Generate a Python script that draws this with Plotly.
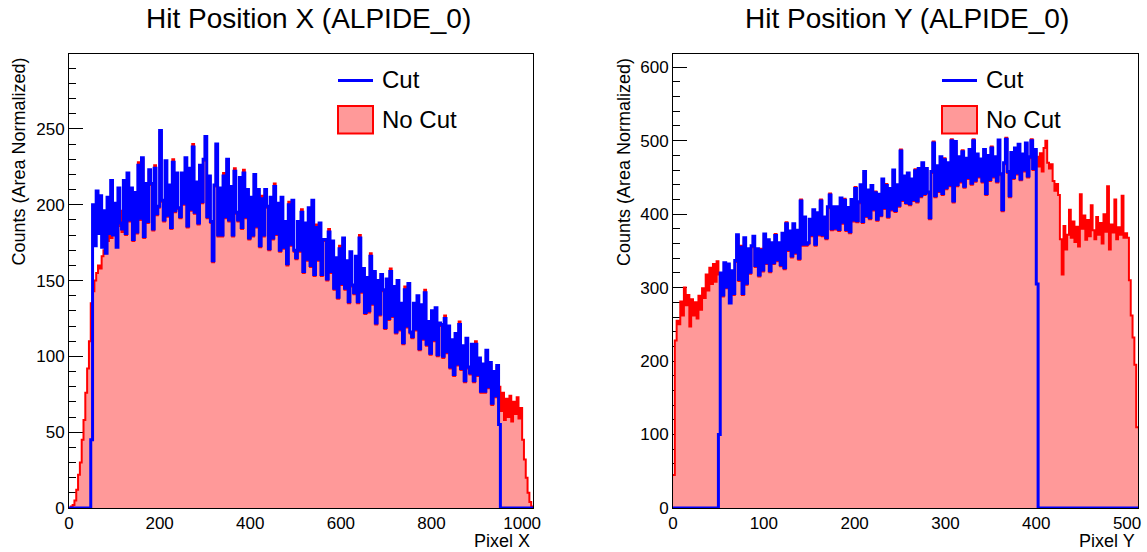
import numpy as np
import plotly.graph_objects as go

# ---------------- data ----------------
# Hit position X: 256 bins over pixel range 0..1024
X_RANGE = (0, 1024)
X_CUT = ([0] * 12 + [45] +
    [200,173,209,181,206,172,196,168,205,181,216,180,201,172,211,188,
     184,216,181,221,190,211,177,208,182,226,191,231,179,214,189,223,
     214,184,224,194,199,249,203,190,229,193,213,185,228,196,221,198,
     192,221,201,231,186,224,197,238,195,215,188,226,202,230,245,192,
     219,189,163,213,240,180,211,180,219,192,230,190,212,180,222,195,
     190,218,185,221,192,210,178,205,180,220,186,210,173,204,180,210,
     199,171,205,178,212,181,201,170,205,172,189,161,200,174,203,170,
     165,189,170,195,156,188,164,198,160,203,154,185,164,188,154,177,
     177,151,182,156,176,145,165,139,171,148,178,145,163,136,169,147,
     142,166,136,178,143,158,129,152,130,166,135,156,122,150,128,154,
     144,119,151,125,156,127,146,116,150,118,135,109,144,120,148,116,
     113,135,118,140,105,134,112,142,108,123,102,130,111,132,101,122,
     121,100,125,103,120,93,111,88,115,95,121,92,107,84,112,93,
     89,108,84,108,88,99,77,95,77,104,80,96,69,90,74,94] +
    [55] + [0] * 18)

X_NOCUT = (
    [0,1,2,5,12,22,30,45,58,76,92,110,135] +
    [143,150,155,160,158,166,170,168,176,185,178,187,180,195,186,196,182,205] +
    [180,220,189,210,176,207,181,228,190,230,178,213,188,222,
     213,183,226,193,198,248,202,189,228,192,212,184,230,195,220,197,
     191,220,200,230,185,223,196,240,194,214,187,225,201,229,244,191,
     218,188,162,212,239,179,210,179,221,191,229,189,211,179,224,194,
     189,217,184,223,191,209,177,204,179,219,185,209,172,206,179,209,
     198,170,204,177,214,180,200,169,204,171,188,160,202,173,202,169,
     164,188,169,197,155,187,163,197,159,202,153,187,163,187,153,176,
     176,150,184,155,175,144,164,138,173,147,177,144,162,135,168,146,
     141,165,135,180,142,157,128,151,129,168,134,155,121,149,127,153,
     143,118,150,124,158,126,145,115,149,117,134,108,146,119,147,115,
     112,134,117,139,104,133,111,144,107,122,101,129,110,131,100,121,
     120,99,127,102,119,92,110,87,114,94,123,91,106,83,111,92,
     88,107,83,110,87,98,76,94,76,103,79,95,68,89,73,93] +
    [80,64,76,58,72,60,74,57,70,62,73,59,66,45,32,20,10,4,1])

# Hit position Y: 256 bins over pixel range 0..512
Y_RANGE = (0, 512)
Y_CUT = ([0] * 25 + [100] +
    [320,290,334,301,332,279,323,292,337,372,311,355,292,368,306,353,
     321,357,370,330,353,317,351,324,373,334,365,323,361,334,371,338,
     361,331,374,327,387,352,377,343,387,348,378,340,418,359,396,359,
     361,393,372,406,359,402,373,418,372,396,368,410,426,380,410,381,
     410,379,422,389,419,379,409,376,420,392,435,391,417,440,390,458,
     398,433,395,439,407,429,393,427,399,448,409,439,397,435,407,460,
     405,440,412,486,420,452,416,456,414,448,420,459,418,462,425,470,
     428,462,430,395,458,497,425,466,432,478,428,474,436,470,440,500,
     418,499,440,478,445,485,438,476,450,488,442,500,446,482,452,475,
     445,488,428,480,447,490,452,478,445,501,455,406,470,502,458,425,
     484,450,490,456,495,448,482,460,497,452,478,500,462,488] +
    [305] + [0] * 55)

Y_NOCUT = (
    [45,228,255,250,281,262,300,276,290,247,284,262,280,258,289,270,
     299,286,318,296,327,305,332,308,336,318] +
    [318,288,332,299,330,282,321,290,335,370,309,357,290,366,304,351,
     319,355,368,328,351,315,353,322,371,332,363,321,359,332,373,336,
     359,329,372,325,389,350,375,341,385,346,376,338,420,357,394,357,
     359,391,370,404,357,400,371,420,370,394,366,408,428,378,408,379,
     408,377,420,387,421,377,407,374,418,390,437,389,415,438,388,456,
     396,431,393,437,405,431,391,425,397,446,407,441,395,433,405,458,
     403,438,410,488,418,450,414,454,412,446,418,461,416,460,423,468,
     426,460,428,393,456,499,423,464,430,476,426,476,434,468,438,502,
     416,497,438,476,443,487,436,474,448,486,440,502,444,480,450,473,
     443,486,426,478,445,492,450,476,443,499,453,404,468,504,456,423,
     482,448,488,454,493,446,480,458,495,450,476,502,460,486] +
    [478,465,483,458,490,500,470,462,468,445,432,441,426,366,318,384,
     352,372,406,368,390,362,383,356,427,380,398,365,392,370,412,378,
     366,396,372,388,360,400,376,438,352,386,375,420,366,382,372,425,
     368,374,368,310,262,232,195,110])

TITLES = ["Hit Position X (ALPIDE_0)", "Hit Position Y (ALPIDE_0)"]
X_TITLES = ["Pixel X", "Pixel Y"]
Y_TITLE = "Counts (Area Normalized)"
LEGEND_LABELS = ["Cut", "No Cut"]
X_TICKS = [list(range(0, 1001, 200)), list(range(0, 501, 100))]

# ---------------- styling / layout ----------------
W, H = 1147, 552
FONT = "Liberation Sans, Arial, sans-serif"
BLUE = "#0000ff"
RED = "#ff0000"
PINK = "#ff9999"

def px_x(p):
    return p / W

def px_y(p):
    return 1 - p / H

panels = [
    dict(xd=(69, 533), rng=X_RANGE, cut=X_CUT, nocut=X_NOCUT, ymax=299.4,
         ydt=50, yminor=10, title_cx=308.5, ytitle_cx=18.5),
    dict(xd=(673, 1138), rng=Y_RANGE, cut=Y_CUT, nocut=Y_NOCUT, ymax=618,
         ydt=100, yminor=20, title_cx=906.5, ytitle_cx=624),
]
TOP, BOT = 54, 508

fig = go.Figure()
annotations = []
shapes = []

for k, p in enumerate(panels):
    ax = "" if k == 0 else str(k + 1)
    nb = len(p["nocut"])
    edges = np.linspace(p["rng"][0], p["rng"][1], nb + 1)
    y_nc = list(p["nocut"]) + [p["nocut"][-1]]
    y_c = list(p["cut"]) + [p["cut"][-1]]
    fig.add_trace(go.Scatter(
        x=edges, y=y_nc, mode="lines", line=dict(color=RED, width=2, shape="hv"),
        fill="tozeroy", fillcolor=PINK, xaxis="x" + ax, yaxis="y" + ax,
        name=LEGEND_LABELS[1], showlegend=False, hoverinfo="skip"))
    fig.add_trace(go.Scatter(
        x=edges, y=y_c, mode="lines", line=dict(color=BLUE, width=3, shape="hv"),
        xaxis="x" + ax, yaxis="y" + ax,
        name=LEGEND_LABELS[0], showlegend=False, hoverinfo="skip"))

    xa = dict(domain=[px_x(p["xd"][0]), px_x(p["xd"][1])], range=list(p["rng"]),
              anchor="y" + ax, showgrid=False, zeroline=False, showline=True,
              linecolor="black", linewidth=1, mirror=True, ticks="",
              tickvals=X_TICKS[k], tickfont=dict(family=FONT, size=17, color="black"),
              automargin=False, layer="below traces")
    ya = dict(domain=[px_y(BOT), px_y(TOP)], range=[0, p["ymax"]],
              anchor="x" + ax, showgrid=False, zeroline=False, showline=True,
              linecolor="black", linewidth=1, mirror=True,
              ticks="inside", ticklen=14, tickwidth=1, tickcolor="black",
              dtick=p["ydt"], tick0=0,
              minor=dict(ticks="inside", ticklen=7, tickwidth=1, tickcolor="black",
                         dtick=p["yminor"], tick0=0, showgrid=False),
              tickfont=dict(family=FONT, size=17, color="black"),
              automargin=False, layer="below traces")
    fig.update_layout(**{"xaxis" + ax: xa, "yaxis" + ax: ya})

    # titles
    annotations.append(dict(text=TITLES[k], x=px_x(p["title_cx"]), y=px_y(18),
                            xref="paper", yref="paper", xanchor="center", yanchor="middle",
                            showarrow=False, font=dict(family=FONT, size=28, color="black")))
    annotations.append(dict(text=Y_TITLE, x=px_x(p["ytitle_cx"]), y=px_y(56),
                            xref="paper", yref="paper", xanchor="center", yanchor="top",
                            textangle=-90, showarrow=False,
                            font=dict(family=FONT, size=18, color="black")))
    annotations.append(dict(text=X_TITLES[k], x=px_x(p["xd"][1] - 1), y=px_y(541),
                            xref="paper", yref="paper", xanchor="right", yanchor="middle",
                            showarrow=False, font=dict(family=FONT, size=18, color="black")))

    # legend
    lx0 = p["xd"][0] + 269
    lx1 = lx0 + 35
    shapes.append(dict(type="line", xref="paper", yref="paper",
                       x0=px_x(lx0), x1=px_x(lx1), y0=px_y(80.5), y1=px_y(80.5),
                       line=dict(color=BLUE, width=3)))
    shapes.append(dict(type="rect", xref="paper", yref="paper",
                       x0=px_x(lx0), x1=px_x(lx1), y0=px_y(106), y1=px_y(133.5),
                       fillcolor=PINK, line=dict(color=RED, width=2)))
    annotations.append(dict(text=LEGEND_LABELS[0], x=px_x(lx1 + 7), y=px_y(80),
                            xref="paper", yref="paper", xanchor="left", yanchor="middle",
                            showarrow=False, font=dict(family=FONT, size=24, color="black")))
    annotations.append(dict(text=LEGEND_LABELS[1], x=px_x(lx1 + 7), y=px_y(120),
                            xref="paper", yref="paper", xanchor="left", yanchor="middle",
                            showarrow=False, font=dict(family=FONT, size=24, color="black")))

fig.update_layout(width=W, height=H, margin=dict(l=0, r=0, t=0, b=0),
                  template="none", paper_bgcolor="white", plot_bgcolor="white",
                  showlegend=False, annotations=annotations, shapes=shapes)

fig.write_html("out.html")
